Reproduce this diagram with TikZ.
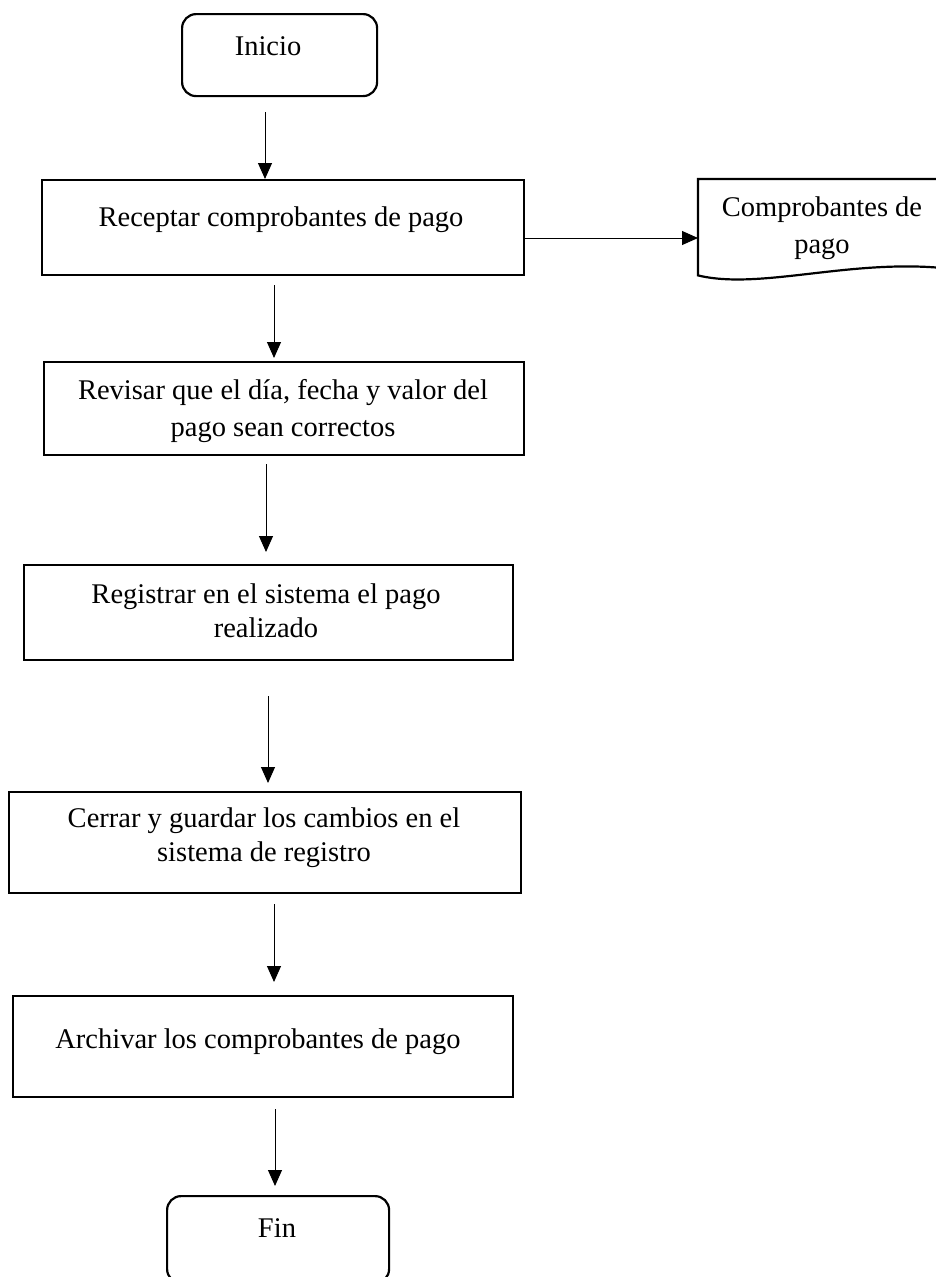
\documentclass[tikz,border=0pt]{standalone}
\usepackage{fontspec}
\setmainfont{Liberation Serif}
\usetikzlibrary{arrows.meta}

\begin{document}
\begin{tikzpicture}[x=1pt,y=-1pt,
  every node/.style={font=\fontsize{28.5}{34}\selectfont},
  proc/.style={draw, line width=2.2pt, inner sep=0pt, anchor=north west},
  term/.style={proc, rounded corners=14pt},
  lbl/.style={inner sep=0pt, anchor=base},
  arr/.style={line width=1pt, -{Triangle[length=16pt,width=14pt]}}]
\useasboundingbox (0,0) rectangle (936,1277);
\clip (0,0) rectangle (936,1277);

% boxes of the flow
\node[term, minimum width=195pt, minimum height=82pt]  (start) at (181,13) {};
\node[proc, minimum width=482pt, minimum height=95pt]  (b2)    at (41,179) {};
\node[proc, minimum width=480pt, minimum height=93pt]  (b3)    at (43,361) {};
\node[proc, minimum width=489pt, minimum height=95pt]  (b4)    at (23,564) {};
\node[proc, minimum width=512pt, minimum height=101pt] (b5)    at (8,791) {};
\node[proc, minimum width=500pt, minimum height=101pt] (b6)    at (12,995) {};
\node[term, minimum width=222pt, minimum height=87pt]  (stop)  at (166,1195) {};

% document symbol with wavy bottom edge
\node[inner sep=0pt, minimum width=248pt, minimum height=96pt, anchor=north west] (doc) at (698,179) {};
\draw[line width=2.2pt] ([yshift=7pt]doc.south east) -- (doc.north east) -- (doc.north west) -- (doc.south west)
  .. controls +(62,15) and +(-96,-10) .. ([yshift=7pt]doc.south east);

% texts
\node[lbl] (t1)  at (268,55)  {Inicio};
\node[lbl] (t2)  at (281,226) {Receptar comprobantes de pago};
\node[lbl] (t7a) at (822,216) {Comprobantes de};
\node[lbl] (t7b) at (822,253) {pago};
\node[lbl] (t3a) at (283,399) {Revisar que el día, fecha y valor del};
\node[lbl] (t3b) at (283,436) {pago sean correctos};
\node[lbl] (t4a) at (266,603) {Registrar en el sistema el pago};
\node[lbl] (t4b) at (266,637) {realizado};
\node[lbl] (t5a) at (264,827) {Cerrar y guardar los cambios en el};
\node[lbl] (t5b) at (264,861) {sistema de registro};
\node[lbl] (t6)  at (258,1048) {Archivar los comprobantes de pago};
\node[lbl] (t8)  at (277,1237) {Fin};

% connector columns
\coordinate (c1) at (265,0);
\coordinate (c2) at (274,0);
\coordinate (c3) at (266,0);
\coordinate (c4) at (268,0);
\coordinate (c5) at (274,0);
\coordinate (c6) at (275,0);
\coordinate (c7) at (0,238);

\draw[arr, shorten <=15pt] (start.south -| c1) -- (b2.north -| c1);
\draw[arr, shorten <=9pt, shorten >=3pt] (b2.south -| c2) -- (b3.north -| c2);
\draw[arr, shorten <=8pt, shorten >=12pt] (b3.south -| c3) -- (b4.north -| c3);
\draw[arr, shorten <=35pt, shorten >=8pt] (b4.south -| c4) -- (b5.north -| c4);
\draw[arr, shorten <=10pt, shorten >=13pt] (b5.south -| c5) -- (b6.north -| c5);
\draw[arr, shorten <=11pt, shorten >=9pt] (b6.south -| c6) -- (stop.north -| c6);
\draw[arr] (b2.east |- c7) -- (doc.west |- c7);
\end{tikzpicture}
\end{document}
